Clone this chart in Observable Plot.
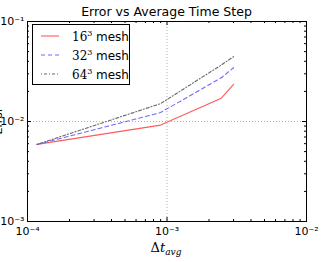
<!DOCTYPE html>
<html><head><meta charset="utf-8">
<script src="https://cdn.jsdelivr.net/npm/d3@7"></script>
<script src="https://cdn.jsdelivr.net/npm/@observablehq/plot@0.6"></script>
<style>body{margin:0;background:#fff}</style></head>
<body><div id="chart"></div>
<script>
// data
const dtAvg = [1.17e-4, 9.0e-4, 2.45e-3, 3.0e-3];
const err16 = [5.9e-3, 9.2e-3, 0.0171, 0.0235];
const err32 = [5.9e-3, 0.0123, 0.0274, 0.0345];
const err64 = [5.9e-3, 0.0151, 0.0367, 0.0445];
const meshNames = ["16", "32", "64"];
const xMajor = [1e-4, 1e-3, 1e-2];
const yMajor = [1e-3, 1e-2, 1e-1];
const minorMult = [2, 3, 4, 5, 6, 7, 8, 9];

const styles = [
  {stroke: "#ff5a5a", dash: null},
  {stroke: "#6b6bff", dash: "4,3"},
  {stroke: "#666666", dash: "1,2,3,2"}
];

const xMinor = [1e-4, 1e-3].flatMap(d => minorMult.map(m => d * m));
const yMinor = [1e-3, 1e-2].flatMap(d => minorMult.map(m => d * m));

const sup = {"-": "\u207B", "1": "\u00B9", "2": "\u00B2", "3": "\u00B3", "4": "\u2074"};
const fmt = d => "10" + String(Math.round(Math.log10(d))).replace(/./g, c => sup[c]);

const allErr = [err16, err32, err64];
const rows = allErr.flatMap((errs, s) => errs.map((e, i) => ({dt: dtAvg[i], err: e, mesh: meshNames[s]})));

const W = 325, H = 262, mL = 27, mR = 19, mT = 21, mB = 41;
const pw = W - mL - mR, ph = H - mT - mB;
const tickColor = "#000";

const plot = Plot.plot({
  width: W, height: H,
  marginLeft: mL, marginRight: mR, marginTop: mT, marginBottom: mB,
  style: {fontFamily: "DejaVu Sans", fontSize: "11px", color: "#000", background: "#fff", overflow: "visible"},
  x: {type: "log", domain: [1e-4, 1e-2]},
  y: {type: "log", domain: [1e-3, 1e-1]},
  marks: [
    Plot.gridX([1e-3], {stroke: "#b0b0b0", strokeOpacity: 1, strokeDasharray: "1,2"}),
    Plot.gridY([1e-2], {stroke: "#b0b0b0", strokeOpacity: 1, strokeDasharray: "1,2"}),
    // major ticks inside the frame
    Plot.tickX(xMajor, {x: d => d, insetTop: ph - 4, stroke: tickColor}),
    Plot.tickX(xMajor, {x: d => d, insetBottom: ph - 4, stroke: tickColor}),
    Plot.tickY(yMajor, {y: d => d, insetRight: pw - 4, stroke: tickColor}),
    Plot.tickY(yMajor, {y: d => d, insetLeft: pw - 4, stroke: tickColor}),
    // minor ticks
    Plot.tickX(xMinor, {x: d => d, insetTop: ph - 2, stroke: tickColor}),
    Plot.tickX(xMinor, {x: d => d, insetBottom: ph - 2, stroke: tickColor}),
    Plot.tickY(yMinor, {y: d => d, insetRight: pw - 2, stroke: tickColor}),
    Plot.tickY(yMinor, {y: d => d, insetLeft: pw - 2, stroke: tickColor}),
    Plot.axisX(xMajor, {tickSize: 0, tickPadding: 6, tickFormat: fmt, label: null, fontSize: 11}),
    Plot.axisY(yMajor, {tickSize: 0, tickPadding: 3, tickFormat: fmt, label: null, fontSize: 11}),
    ...meshNames.map((m, s) => Plot.line(rows.filter(r => r.mesh === m), {
      x: "dt", y: "err", stroke: styles[s].stroke, strokeWidth: 1.1,
      strokeDasharray: styles[s].dash
    })),
    Plot.frame({stroke: "#000", strokeWidth: 1})
  ]
});

const svg = d3.select(plot);
// title
svg.append("text").attr("x", mL + pw / 2).attr("y", 16).attr("text-anchor", "middle")
  .attr("font-family", "DejaVu Sans").attr("font-size", 12.5).text("Error vs Average Time Step");
// x label
const xl = svg.append("text").attr("x", 166).attr("y", 252).attr("text-anchor", "middle")
  .attr("font-family", "DejaVu Serif").attr("font-size", 13);
xl.append("tspan").text("\u0394");
xl.append("tspan").attr("font-style", "italic").text("t");
xl.append("tspan").attr("font-style", "italic").attr("font-size", 9).attr("dy", 3).text("avg");
// y label (mostly clipped by the edge, as in the reference)
svg.append("text").attr("transform", `translate(2,${mT + ph / 2}) rotate(-90)`).attr("text-anchor", "middle")
  .attr("font-family", "DejaVu Sans").attr("font-size", 11).text("Error");
// legend
const lg = svg.append("g").attr("text-anchor", "start");
lg.append("rect").attr("x", 32.5).attr("y", 24.5).attr("width", 97).attr("height", 60)
  .attr("fill", "#fff").attr("stroke", "#000").attr("stroke-width", 1);
meshNames.forEach((m, s) => {
  const y = 36 + s * 19;
  lg.append("line").attr("x1", 41).attr("x2", 59).attr("y1", y).attr("y2", y)
    .attr("stroke", styles[s].stroke).attr("stroke-width", 1.1)
    .attr("stroke-dasharray", styles[s].dash);
  const t = lg.append("text").attr("x", 72).attr("y", y + 4.5).attr("font-size", 12).attr("text-anchor", "start");
  t.append("tspan").attr("font-family", "DejaVu Serif").text(m);
  t.append("tspan").attr("font-family", "DejaVu Serif").attr("font-size", 8).attr("dy", -5).text("3");
  t.append("tspan").attr("font-family", "DejaVu Sans").attr("x", 96).attr("dy", 5).text("mesh");
});

document.getElementById("chart").appendChild(plot);
</script>
</body></html>
